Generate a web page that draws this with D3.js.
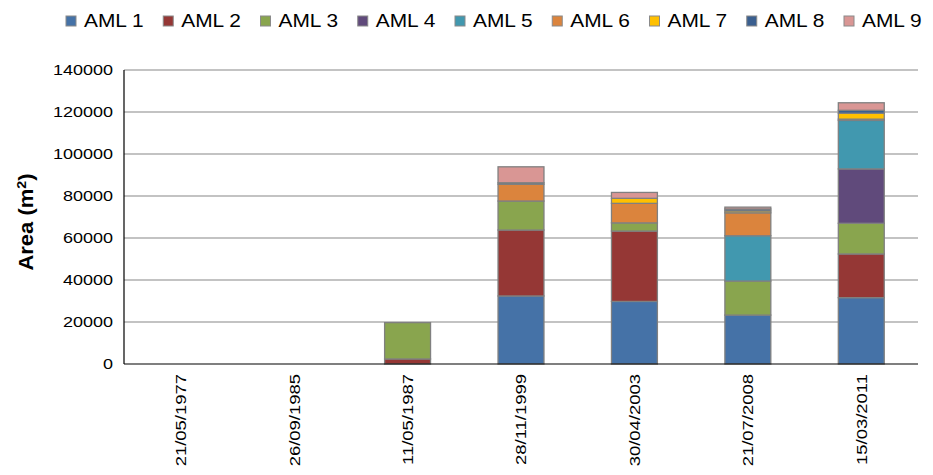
<!DOCTYPE html>
<html>
<head>
<meta charset="utf-8">
<script src="https://cdn.jsdelivr.net/npm/d3@7"></script>
<style>
  html, body { margin: 0; padding: 0; background: #fff; }
  svg { display: block; font-family: "Liberation Sans", Arial, Helvetica, sans-serif; }
</style>
</head>
<body>
<svg id="chart" width="933" height="475"></svg>
<script>
// Acquisition dates (x categories)
const dates = ["21/05/1977", "26/09/1985", "11/05/1987", "28/11/1999", "30/04/2003", "21/07/2008", "15/03/2011"];
const seriesNames = ["AML 1", "AML 2", "AML 3", "AML 4", "AML 5", "AML 6", "AML 7", "AML 8", "AML 9"];

// Area per AML unit (m²) for each date
const aml1 = [0, 0, 0, 32400, 29800, 23300, 31600];
const aml2 = [0, 0, 2400, 31400, 33500, 0, 20800];
const aml3 = [0, 0, 17300, 13800, 3900, 16200, 14600];
const aml4 = [0, 0, 0, 0, 0, 0, 25900];
const aml5 = [0, 0, 0, 0, 0, 21600, 23100];
const aml6 = [0, 0, 0, 8000, 9300, 10900, 600];
const aml7 = [0, 0, 0, 0, 2400, 900, 2800];
const aml8 = [0, 0, 0, 700, 0, 900, 1400];
const aml9 = [0, 0, 0, 7600, 2800, 900, 3600];

const seriesColors = ["#4572A7", "#953735", "#89A54E", "#604A7B", "#4198AF", "#DB843D", "#FFC000", "#3A5F8F", "#D99694"];
const yTicks = [0, 20000, 40000, 60000, 80000, 100000, 120000, 140000];

const seriesValues = [aml1, aml2, aml3, aml4, aml5, aml6, aml7, aml8, aml9];
const rows = dates.map((d, i) => {
  const r = { date: d };
  seriesNames.forEach((s, j) => { r[s] = seriesValues[j][i]; });
  return r;
});

const svg = d3.select("#chart");
const plot = { left: 124, right: 918, top: 70, bottom: 364 };

// Stretch text horizontally along its advance direction
function stretch(sel, k) {
  sel.each(function () {
    const w = this.getComputedTextLength();
    this.setAttribute("textLength", w * k);
    this.setAttribute("lengthAdjust", "spacingAndGlyphs");
  });
}

const x = d3.scaleBand()
  .domain(dates)
  .range([plot.left, plot.right])
  .paddingInner(0.595)
  .paddingOuter(0.2975);

const y = d3.scaleLinear()
  .domain([0, 140000])
  .range([plot.bottom, plot.top]);

// Horizontal gridlines
svg.append("g")
  .selectAll("line")
  .data(yTicks.filter(t => t > 0))
  .join("line")
  .attr("x1", plot.left)
  .attr("x2", plot.right)
  .attr("y1", d => y(d))
  .attr("y2", d => y(d))
  .attr("stroke", "#878787")
  .attr("stroke-width", 1.2);

// Stacked bars
const stacked = d3.stack().keys(seriesNames)(rows);
const barGroup = svg.append("g");
stacked.forEach((layer, j) => {
  barGroup.append("g")
    .attr("fill", seriesColors[j])
    .selectAll("rect")
    .data(layer.filter(d => d[1] - d[0] > 0))
    .join("rect")
    .attr("x", d => x(d.data.date))
    .attr("width", x.bandwidth())
    .attr("y", d => y(d[1]))
    .attr("height", d => y(d[0]) - y(d[1]))
    .attr("stroke", "#808080")
    .attr("stroke-width", 1.3);
});

// Axis lines
svg.append("line")
  .attr("x1", plot.left).attr("x2", plot.left)
  .attr("y1", y(140000)).attr("y2", plot.bottom)
  .attr("stroke", "#000").attr("stroke-width", 1.2);
svg.append("line")
  .attr("x1", plot.left).attr("x2", plot.right)
  .attr("y1", plot.bottom).attr("y2", plot.bottom)
  .attr("stroke", "#000").attr("stroke-width", 1.2);

// Y axis tick labels
const yAxis = d3.axisLeft(y).tickValues(yTicks).tickFormat(d3.format("d")).tickSize(0).tickPadding(11);
const yg = svg.append("g").attr("transform", `translate(${plot.left},0)`).call(yAxis);
yg.select(".domain").remove();
yg.selectAll("text")
  .attr("font-size", 15)
  .attr("font-family", "Liberation Sans, Arial, sans-serif")
  .attr("fill", "#000");
stretch(yg.selectAll("text"), 1.2);

// X axis category labels (rotated)
const xAxis = d3.axisBottom(x).tickSize(0).tickPadding(0);
const xg = svg.append("g").attr("transform", `translate(0,${plot.bottom})`).call(xAxis);
xg.select(".domain").remove();
xg.selectAll("text")
  .attr("font-size", 15)
  .attr("font-family", "Liberation Sans, Arial, sans-serif")
  .attr("fill", "#000")
  .attr("text-anchor", "end")
  .attr("transform", "rotate(-90)")
  .attr("x", -10)
  .attr("y", 0)
  .attr("dy", "0.36em");
stretch(xg.selectAll("text"), 1.23);

// Y axis title
const title = svg.append("text")
  .attr("transform", `translate(33,${(plot.top + plot.bottom) / 2 + 5}) rotate(-90)`)
  .attr("text-anchor", "middle")
  .attr("font-size", 20)
  .attr("font-weight", "bold")
  .attr("fill", "#000");
title.append("tspan").text("Area (m");
title.append("tspan").attr("font-size", 13).attr("dy", -7).text("2");
title.append("tspan").attr("dy", 7).text(")");
stretch(title, 1.1);

// Legend
const legend = svg.append("g");
const legendX = d3.scalePoint().domain(seriesNames).range([66, 844]);
const items = legend.selectAll("g")
  .data(seriesNames)
  .join("g")
  .attr("transform", d => `translate(${legendX(d)},16)`);
items.append("rect")
  .attr("width", 10)
  .attr("height", 10)
  .attr("fill", (d, i) => seriesColors[i])
  .attr("stroke", "#8a8a8a")
  .attr("stroke-width", 1);
const legendText = items.append("text")
  .attr("x", 18)
  .attr("y", 11)
  .attr("font-size", 19)
  .attr("fill", "#000")
  .text(d => d);
stretch(legendText, 1.1);
</script>
</body>
</html>
